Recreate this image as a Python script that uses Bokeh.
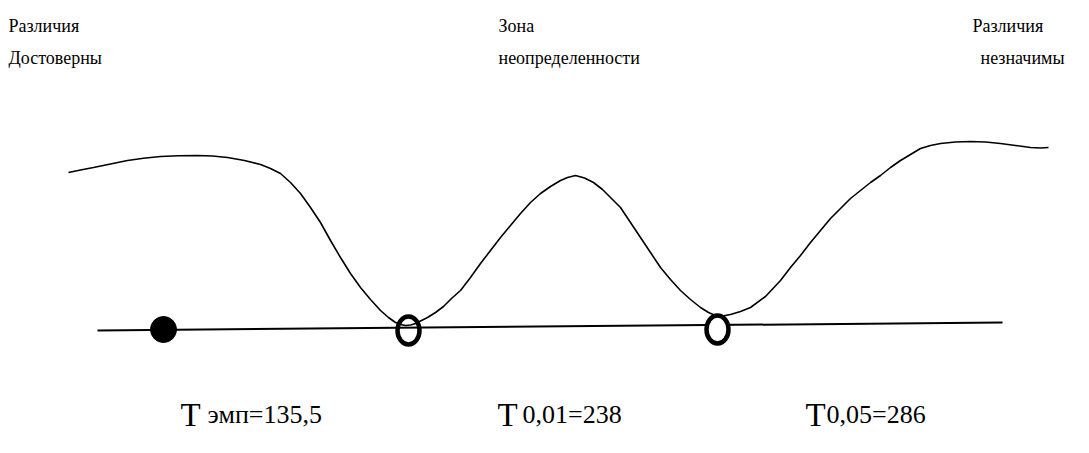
from bokeh.plotting import figure
from bokeh.models import Range1d
from bokeh.core.properties import value
from bokeh.embed import file_html
from bokeh.resources import INLINE

# --- data (picture coordinates) ---
curve_x = [68, 80, 93, 110, 127, 143, 160, 178, 197, 212, 227, 244, 260, 270, 280, 290,
           300, 310, 320, 330, 340, 350, 360, 370, 380, 388, 395, 400, 405, 410, 415, 421,
           427, 435, 443, 451, 460, 470, 480, 490, 500, 510, 520, 530, 540, 550, 560, 567,
           575, 584, 593, 602, 610, 620, 630, 640, 650, 660, 670, 680, 690, 700, 708, 715,
           722, 730, 740, 750, 765, 780, 790, 800, 810, 820, 830, 840, 850, 860, 870, 880,
           890, 900, 910, 920, 930, 940, 955, 970, 985, 1000, 1015, 1030, 1040, 1048]
curve_y = [172, 169.5, 167, 163.5, 160, 157.8, 156, 155.2, 155, 155.5, 157, 160, 164, 168,
           173, 182, 193, 207, 222, 240, 257, 273, 287, 299, 310, 317, 322, 324, 325, 324.5,
           323, 320, 317, 312, 306, 298, 290, 277, 263, 250, 237, 225, 213, 202, 193, 186,
           180, 177, 175, 177.5, 182, 189, 197, 207, 222, 237, 252, 267, 279, 290, 299, 307,
           312, 315, 315.5, 314, 311, 307, 296, 280, 267, 255, 242, 230, 218, 208, 198, 190,
           182, 175, 167, 160, 154, 148, 145, 143, 141.5, 141, 141.5, 143, 145, 147, 147.5, 147]

axis_x = [97, 1002]
axis_y = [330, 322]

emp_x = [163]
emp_y = [329]

crit_x = [408, 717]
crit_y = [330, 329]

top_labels_1 = ["Различия", "Зона", "Различия"]
top_labels_2 = ["Достоверны", "неопределенности", "незначимы"]
top_x1 = [8, 498, 972]
top_x2 = [8, 498, 980]

t_letters = ["T", "T", "T"]
t_x = [180, 497, 805]
sub_labels = ["эмп=135,5", "0,01=238", "0,05=286"]
sub_x = [207, 522, 826]

W, H = 1081, 445
p = figure(width=W, height=H, x_range=Range1d(0, W), y_range=Range1d(H, 0),
           output_backend="svg", toolbar_location=None, min_border=0,
           x_axis_type=None, y_axis_type=None)
p.grid.visible = False
p.outline_line_color = None
p.background_fill_color = "white"

p.line(curve_x, curve_y, line_color="black", line_width=1.6)
p.line(axis_x, axis_y, line_color="black", line_width=2)
p.scatter(emp_x, emp_y, size=26, fill_color="black", line_color="black")
p.ellipse(x=crit_x, y=crit_y, width=22, height=28, fill_color="white",
          fill_alpha=[0, 1], line_color="black", line_width=4.5)

serif = value("Liberation Serif")
p.text(x=top_x1, y=[25] * 3, text=top_labels_1, text_font=serif, text_font_size="18px",
       text_baseline="alphabetic", text_align="left", text_color="black")
p.text(x=top_x2, y=[57] * 3, text=top_labels_2, text_font=serif, text_font_size="18px",
       text_baseline="alphabetic", text_align="left", text_color="black")
p.text(x=t_x, y=[414] * 3, text=t_letters, text_font=serif, text_font_size="33px",
       text_baseline="alphabetic", text_align="left", text_color="black")
p.text(x=sub_x, y=[414] * 3, text=sub_labels, text_font=serif, text_font_size="26px",
       text_baseline="alphabetic", text_align="left", text_color="black")

open("out.html", "w").write(file_html(p, INLINE))
